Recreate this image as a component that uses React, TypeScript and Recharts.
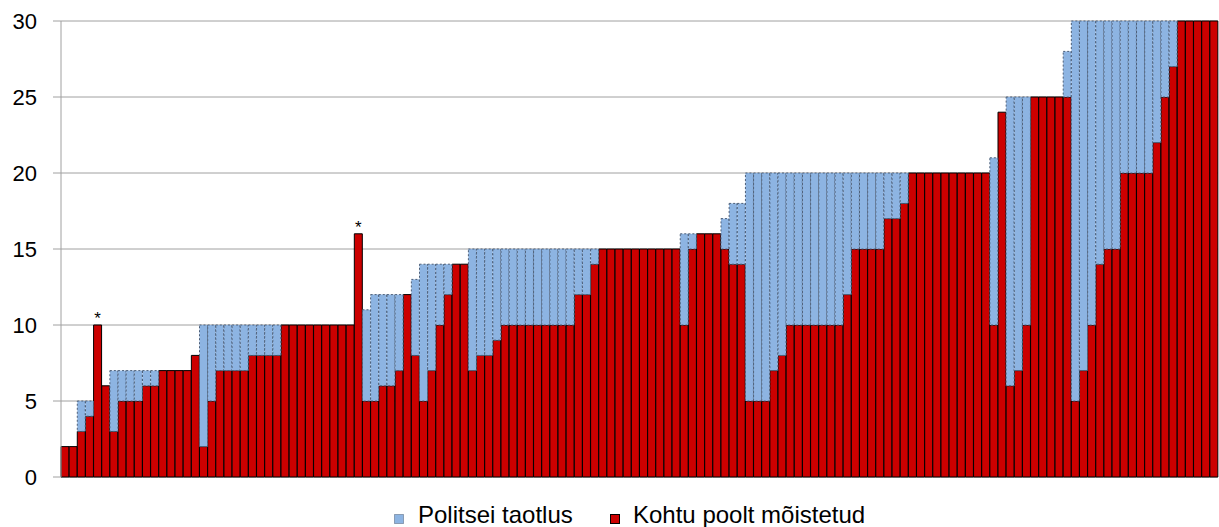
import { BarChart, Bar, XAxis, YAxis, CartesianGrid, LabelList } from 'recharts'

// Kohtu poolt mõistetud (red), one value per case
const court = [
  2, 2, 3, 4, 10, 6, 3, 5, 5, 5, 6, 6, 7, 7, 7, 7, 8, 2, 5, 7, 7, 7, 7, 8, 8, 8, 8,
  10, 10, 10, 10, 10, 10, 10, 10, 10,
  16, 5, 5, 6, 6, 7, 12, 8, 5, 7, 10, 12, 14, 14, 7, 8, 8, 9,
  10, 10, 10, 10, 10, 10, 10, 10, 10,
  12, 12, 14,
  15, 15, 15, 15, 15, 15, 15, 15, 15, 15,
  10, 15, 16, 16, 16, 15, 14, 14, 5, 5, 5, 7, 8,
  10, 10, 10, 10, 10, 10, 10,
  12, 15, 15, 15, 15, 17, 17, 18,
  20, 20, 20, 20, 20, 20, 20, 20, 20, 20,
  10, 24, 6, 7, 10,
  25, 25, 25, 25, 25,
  5, 7, 10, 14, 15, 15, 20, 20, 20, 20, 22, 25, 27,
  30, 30, 30, 30, 30,
]

// Politsei taotlus (blue), total requested per case
const police = [
  2, 2, 5, 5, 10, 6, 7, 7, 7, 7, 7, 7, 7, 7, 7, 7, 8, 10, 10, 10, 10, 10, 10, 10, 10, 10, 10,
  10, 10, 10, 10, 10, 10, 10, 10, 10,
  16, 11, 12, 12, 12, 12, 12, 13, 14, 14, 14, 14, 14, 14, 15, 15, 15, 15,
  15, 15, 15, 15, 15, 15, 15, 15, 15,
  15, 15, 15,
  15, 15, 15, 15, 15, 15, 15, 15, 15, 15,
  16, 16, 16, 16, 16, 17, 18, 18, 20, 20, 20, 20, 20,
  20, 20, 20, 20, 20, 20, 20,
  20, 20, 20, 20, 20, 20, 20, 20,
  20, 20, 20, 20, 20, 20, 20, 20, 20, 20,
  21, 24, 25, 25, 25,
  25, 25, 25, 25, 28,
  30, 30, 30, 30, 30, 30, 30, 30, 30, 30, 30, 30, 30,
  30, 30, 30, 30, 30,
]

// cases marked with an asterisk (1-based)
const starred = [5, 37]

const yTicks = [0, 5, 10, 15, 20, 25, 30]

const data = court.map((c, i) => ({
  id: i + 1,
  kohus: c,
  politsei: Math.max(0, police[i] - c),
  star: starred.includes(i + 1) ? '*' : '',
}))

const BLUE = '#8DB4E2'
const RED = '#CC0000'
const FONT = '"Liberation Sans", Arial, sans-serif'

export default function App() {
  return (
    <div style={{ position: 'absolute', left: 0, top: 0, width: 1219, height: 527, background: '#fff', fontFamily: FONT }}>
      <BarChart
        width={1219}
        height={527}
        data={data}
        margin={{ top: 21, right: 1, bottom: 50, left: 0 }}
        barCategoryGap={0}
        barGap={0}
      >
        <CartesianGrid vertical={false} stroke="#a0a0a0" strokeWidth={1} />
        <XAxis dataKey="id" hide />
        <YAxis
          domain={[0, 30]}
          ticks={yTicks}
          width={61}
          tickSize={8}
          tickLine={{ stroke: '#a0a0a0' }}
          tickMargin={16}
          axisLine={{ stroke: '#a0a0a0' }}
          tick={{ fill: '#000', fontSize: 22, fontFamily: FONT }}
          interval={0}
        />
        <Bar dataKey="kohus" stackId="a" fill={RED} stroke="#000" strokeWidth={1} isAnimationActive={false}>
          <LabelList dataKey="star" position="top" offset={1} fill="#000" fontSize={17} />
        </Bar>
        <Bar dataKey="politsei" stackId="a" fill={BLUE} stroke="#4d5f78" strokeWidth={1} strokeDasharray="2 2" isAnimationActive={false} />
      </BarChart>
      {/* legend */}
      <svg width={1219} height={527} style={{ position: 'absolute', left: 0, top: 0, pointerEvents: 'none' }}>
        <rect x={394.5} y={514.5} width={9} height={9} fill={BLUE} stroke="#4d5f78" strokeDasharray="1 1" />
        <text x={418} y={523} fontSize={24} fontFamily={FONT} fill="#000">Politsei taotlus</text>
        <rect x={610.5} y={514.5} width={9} height={9} fill={RED} stroke="#000" />
        <text x={633} y={523} fontSize={24} fontFamily={FONT} fill="#000">Kohtu poolt mõistetud</text>
      </svg>
    </div>
  )
}
